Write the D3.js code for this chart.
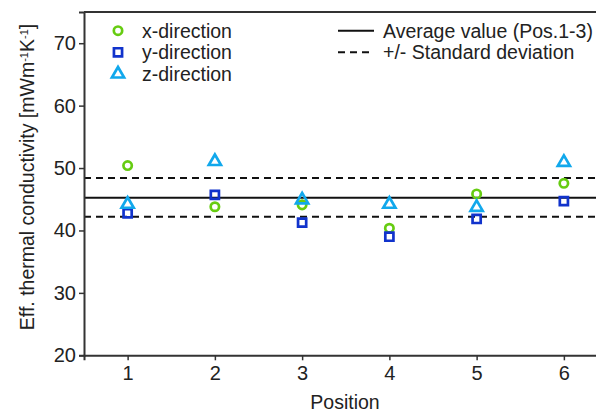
<!DOCTYPE html>
<html><head><meta charset="utf-8">
<script src="https://cdn.jsdelivr.net/npm/d3@7"></script>
<style>body{margin:0;background:#fff;} svg{display:block;} text{font-family:"Liberation Sans",Arial,sans-serif;fill:#222;}</style>
</head><body>
<svg id="c" width="596" height="414"></svg>
<script>
const positions = [1, 2, 3, 4, 5, 6];
const xDir = [50.4, 43.8, 44.1, 40.35, 45.85, 47.55];
const yDir = [42.75, 45.7, 41.25, 39.0, 41.85, 44.7];
const zDir = [44.2, 51.05, 44.9, 44.2, 43.7, 50.9];
const average = 45.26;
const stdUpper = 48.4;
const stdLower = 42.2;
const yTicks = [20, 30, 40, 50, 60, 70];
const xLabel = "Position";
const seriesNames = ["x-direction", "y-direction", "z-direction"];
const lineNames = ["Average value (Pos.1-3)", "+/- Standard deviation"];

const svg = d3.select("#c");
const x = d3.scaleLinear().domain([0.5, 6.5]).range([84, 607.5]);
const y = d3.scaleLinear().domain([20, 75]).range([355.3, 12]);

const colors = ["#66cc11", "#1133cc", "#11a8ec"];
const shapes = [d3.symbolCircle, d3.symbolSquare, d3.symbolTriangle];
const sizes = [55, 66, 64];
const FS = 19.5;

// Reference lines
const hl = (v, dash) => svg.append("line")
  .attr("x1", x(0.5)).attr("x2", x(6.5)).attr("y1", y(v)).attr("y2", y(v))
  .attr("stroke", "#111").attr("stroke-width", 2).attr("stroke-dasharray", dash);
hl(average, null);
hl(stdUpper, "7,5");
hl(stdLower, "7,5");

// Axes
const yAxis = d3.axisLeft(y).tickValues(yTicks).tickSize(5).tickPadding(3).tickFormat(d3.format("d"));
const gy = svg.append("g").attr("transform", `translate(${x(0.5)},0)`).call(yAxis);
const xAxis = d3.axisBottom(x).tickValues(positions).tickSize(5).tickPadding(6).tickFormat(d3.format("d"));
const gx = svg.append("g").attr("transform", `translate(0,${y(20)})`).call(xAxis);
[gy, gx].forEach(g => {
  g.select(".domain").attr("stroke", "#333").attr("stroke-width", 2);
  g.selectAll(".tick line").attr("stroke", "#333").attr("stroke-width", 1.5);
  g.selectAll(".tick text").attr("font-size", 20).attr("fill", "#222")
    .attr("font-family", "Liberation Sans, Arial, sans-serif");
});
// Top border and right spine (clipped by window)
svg.append("line").attr("x1", x(0.5)).attr("x2", x(6.5)).attr("y1", y(75)).attr("y2", y(75))
  .attr("stroke", "#333").attr("stroke-width", 2);
svg.append("line").attr("x1", x(6.5)).attr("x2", x(6.5)).attr("y1", y(75)).attr("y2", y(20))
  .attr("stroke", "#333").attr("stroke-width", 2);

// Points
[xDir, yDir, zDir].forEach((vals, i) => {
  svg.append("g").selectAll("path").data(vals).join("path")
    .attr("transform", (d, j) => `translate(${x(positions[j])},${y(d)})`)
    .attr("d", d3.symbol().type(shapes[i]).size(sizes[i]))
    .attr("fill", "none").attr("stroke", colors[i]).attr("stroke-width", 2.7);
});

// Axis labels
svg.append("text").attr("x", 345).attr("y", 409).attr("text-anchor", "middle")
  .attr("font-size", FS).text(xLabel);
const yl = svg.append("text").attr("transform", "translate(34,177) rotate(-90)")
  .attr("text-anchor", "middle").attr("font-size", FS);
yl.append("tspan").text("Eff. thermal conductivity [mWm");
yl.append("tspan").attr("baseline-shift", "super").attr("font-size", 11).text("-1");
yl.append("tspan").text("K");
yl.append("tspan").attr("baseline-shift", "super").attr("font-size", 11).text("-1");
yl.append("tspan").text("]");

// Legend left
const legY = [30.7, 52.3, 74];
seriesNames.forEach((n, i) => {
  svg.append("path").attr("transform", `translate(118,${legY[i]})`)
    .attr("d", d3.symbol().type(shapes[i]).size(sizes[i]))
    .attr("fill", "none").attr("stroke", colors[i]).attr("stroke-width", 2.7);
  svg.append("text").attr("x", 142).attr("y", legY[i] + 7).attr("font-size", FS).text(n);
});
// Legend right
lineNames.forEach((n, i) => {
  svg.append("line").attr("x1", 338).attr("x2", 374).attr("y1", legY[i]).attr("y2", legY[i])
    .attr("stroke", "#111").attr("stroke-width", 2).attr("stroke-dasharray", i ? "7,5" : null);
  svg.append("text").attr("x", 383).attr("y", legY[i] + 7).attr("font-size", FS).text(n);
});
</script>
</body></html>
